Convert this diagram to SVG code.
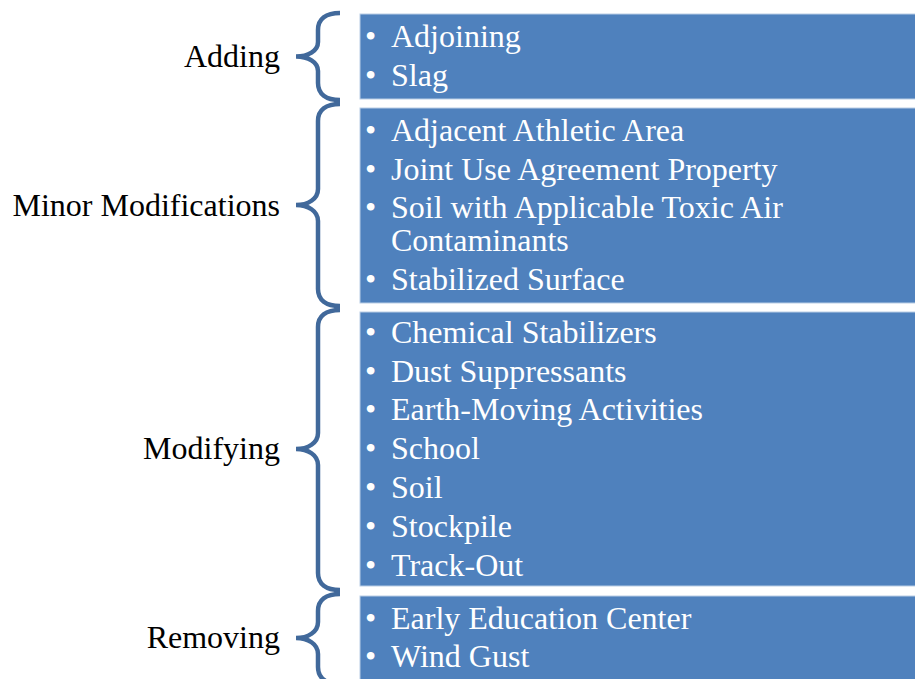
<svg xmlns="http://www.w3.org/2000/svg" width="915" height="679" viewBox="0 0 915 679">
  <style>
    .box { fill: #4f81bd; stroke: #b9cde5; stroke-width: 1; }
    .brace { fill: none; stroke: #41699b; stroke-width: 4.5; }
    .label { font-family: "Liberation Serif", "Times New Roman", serif; font-size: 32px; fill: #000000; text-anchor: end; }
    .item { font-family: "Liberation Serif", "Times New Roman", serif; font-size: 32px; fill: #ffffff; }
  </style>
  <rect width="915" height="679" fill="#ffffff"/>

  <!-- Brackets joining each category label to its term list -->
  <g id="connectors">
    <path class="brace" d="M340,13 C326,13 318,19 318,30 L318,42 C318,51 308,56.5 296,56.5 C308,56.5 318,62 318,71 L318,83 C318,94 326,100 340,100"/>
    <path class="brace" d="M340,104 C326,104 318,110 318,121 L318,189 C318,199 308,205 296,205 C308,205 318,211 318,221 L318,289 C318,300 326,306 340,306"/>
    <path class="brace" d="M340,310 C326,310 318,316 318,327 L318,433 C318,443 308,449 296,449 C308,449 318,455 318,465 L318,573 C318,584 326,590 340,590"/>
    <path class="brace" d="M340,594 C326,594 318,600 318,611 L318,622 C318,632 308,638 296,638 C308,638 318,644 318,654 L318,667 C318,678 326,684 340,684"/>
  </g>

  <g id="adding">
    <text class="label" x="280" y="67">Adding</text>
    <rect class="box" x="360" y="14" width="560" height="85"/>
    <text class="item" x="365" y="47">•</text>
    <text class="item" x="391" y="47">Adjoining</text>
    <text class="item" x="365" y="86">•</text>
    <text class="item" x="391" y="86">Slag</text>
  </g>

  <g id="minor-modifications">
    <text class="label" x="280" y="216">Minor Modifications</text>
    <rect class="box" x="360" y="108" width="560" height="195"/>
    <text class="item" x="365" y="141">•</text>
    <text class="item" x="391" y="141">Adjacent Athletic Area</text>
    <text class="item" x="365" y="180">•</text>
    <text class="item" x="391" y="180">Joint Use Agreement Property</text>
    <text class="item" x="365" y="218">•</text>
    <text class="item" x="391" y="218">Soil with Applicable Toxic Air</text>
    <text class="item" x="391" y="251">Contaminants</text>
    <text class="item" x="365" y="290">•</text>
    <text class="item" x="391" y="290">Stabilized Surface</text>
  </g>

  <g id="modifying">
    <text class="label" x="280" y="459">Modifying</text>
    <rect class="box" x="360" y="312" width="560" height="274"/>
    <text class="item" x="365" y="343">•</text>
    <text class="item" x="391" y="343">Chemical Stabilizers</text>
    <text class="item" x="365" y="382">•</text>
    <text class="item" x="391" y="382">Dust Suppressants</text>
    <text class="item" x="365" y="420">•</text>
    <text class="item" x="391" y="420">Earth-Moving Activities</text>
    <text class="item" x="365" y="459">•</text>
    <text class="item" x="391" y="459">School</text>
    <text class="item" x="365" y="498">•</text>
    <text class="item" x="391" y="498">Soil</text>
    <text class="item" x="365" y="537">•</text>
    <text class="item" x="391" y="537">Stockpile</text>
    <text class="item" x="365" y="576">•</text>
    <text class="item" x="391" y="576">Track-Out</text>
  </g>

  <g id="removing">
    <text class="label" x="280" y="648">Removing</text>
    <rect class="box" x="360" y="596" width="560" height="90"/>
    <text class="item" x="365" y="629">•</text>
    <text class="item" x="391" y="629">Early Education Center</text>
    <text class="item" x="365" y="667">•</text>
    <text class="item" x="391" y="667">Wind Gust</text>
  </g>
</svg>
